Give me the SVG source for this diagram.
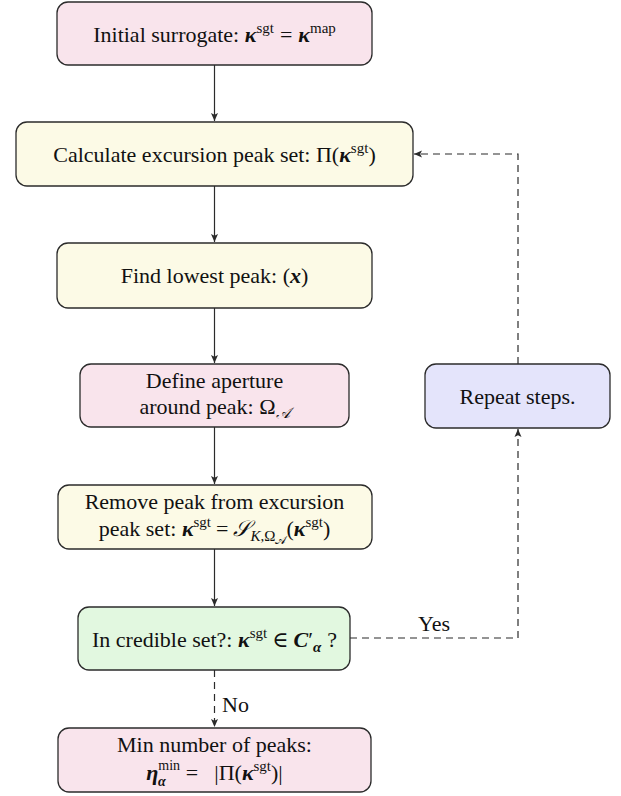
<svg xmlns="http://www.w3.org/2000/svg" width="621" height="796" viewBox="0 0 621 796">
<style>
.box{stroke:#2b2b2b;stroke-width:1.3}
.pink{fill:#f9e4ec}
.yellow{fill:#fcfae6}
.green{fill:#e2f8e0}
.blue{fill:#e4e4fb}
text{font-size:22px;fill:#111}
.c{text-anchor:middle}
.bi{font-weight:bold;font-style:italic}
.it{font-style:italic}
.sup{font-size:15px}
.ss{font-size:12px}
.line{stroke:#2b2b2b;stroke-width:1.2;fill:none}
.dash{stroke-dasharray:7,5}
</style>
<defs>
<marker id="arr" markerUnits="userSpaceOnUse" markerWidth="9" markerHeight="8" refX="8" refY="4" orient="auto">
<path d="M0,0.5 L8,4 L0,7.5 L1.8,4 z" fill="#2b2b2b"/>
</marker>
</defs>

<g id="connectors" font-family="'Liberation Serif', 'DejaVu Serif', serif">
<line class="line" x1="214.5" y1="65" x2="214.5" y2="121" marker-end="url(#arr)"/>
<line class="line" x1="214.5" y1="186" x2="214.5" y2="242" marker-end="url(#arr)"/>
<line class="line" x1="214.5" y1="308" x2="214.5" y2="363" marker-end="url(#arr)"/>
<line class="line" x1="214.5" y1="427" x2="214.5" y2="484" marker-end="url(#arr)"/>
<line class="line" x1="214.5" y1="549" x2="214.5" y2="606" marker-end="url(#arr)"/>
<line class="line dash" x1="214.5" y1="670" x2="214.5" y2="727" marker-end="url(#arr)"/>
<text x="222" y="712">No</text>
<polyline class="line dash" points="350,638 518,638 518,429" marker-end="url(#arr)"/>
<text class="c" x="434" y="631">Yes</text>
<polyline class="line dash" points="518,364 518,154 414,154" marker-end="url(#arr)"/>
</g>

<g id="nodes" font-family="'Liberation Serif', 'DejaVu Serif', serif">
<g id="n1">
<rect class="box pink" x="57" y="2" width="315" height="63" rx="11"/>
<text class="c" x="214.5" y="42">Initial surrogate: <tspan class="bi">κ</tspan><tspan class="sup" dy="-9">sgt</tspan><tspan dy="9" dx="6">=</tspan><tspan class="bi" dx="6">κ</tspan><tspan class="sup" dy="-9">map</tspan></text>
</g>

<g id="n2">
<rect class="box yellow" x="16" y="122" width="397" height="64" rx="11"/>
<text class="c" x="214.5" y="162">Calculate excursion peak set: Π(<tspan class="bi">κ</tspan><tspan class="sup" dy="-9">sgt</tspan><tspan dy="9">)</tspan></text>
</g>

<g id="n3">
<rect class="box yellow" x="57" y="243" width="315" height="65" rx="11"/>
<text class="c" x="214.5" y="283">Find lowest peak: (<tspan class="bi">x</tspan>)</text>
</g>

<g id="n4">
<rect class="box pink" x="80" y="364" width="269" height="63" rx="11"/>
<text class="c" x="214.5" y="388">Define aperture</text>
<text class="c" x="214.5" y="414">around peak: Ω<tspan class="sup it" dy="4">𝒜</tspan></text>
</g>

<g id="n5">
<rect class="box yellow" x="58" y="485" width="314" height="64" rx="11"/>
<text class="c" x="214.5" y="509">Remove peak from excursion</text>
<text class="c" x="214.5" y="536">peak set: <tspan class="bi">κ</tspan><tspan class="sup" dy="-9">sgt</tspan><tspan dy="9" dx="5">=</tspan><tspan class="it" dx="5">𝒮</tspan><tspan class="sup" dy="5"><tspan class="it">K</tspan>,Ω</tspan><tspan class="ss" dy="3">𝒜</tspan><tspan dy="-8">(</tspan><tspan class="bi">κ</tspan><tspan class="sup" dy="-9">sgt</tspan><tspan dy="9">)</tspan></text>
</g>

<g id="n6">
<rect class="box green" x="78" y="607" width="272" height="63" rx="11"/>
<text class="c" x="214.5" y="647">In credible set?: <tspan class="bi">κ</tspan><tspan class="sup" dy="-9">sgt</tspan><tspan dy="9" dx="5">∈</tspan><tspan class="bi" dx="5">C</tspan>′<tspan class="sup bi" dy="5">α</tspan><tspan dy="-5" dx="6">?</tspan></text>
</g>

<g id="n7">
<rect class="box blue" x="425" y="364" width="185" height="64" rx="11"/>
<text class="c" x="517.5" y="404">Repeat steps.</text>
</g>

<g id="n8">
<rect class="box pink" x="58" y="728" width="313" height="64" rx="11"/>
<text class="c" x="214.5" y="752">Min number of peaks:</text>
<text class="c" x="214.5" y="780"><tspan class="bi">η</tspan><tspan font-size="14" dy="-10">min</tspan><tspan font-size="14" class="bi" dx="-22" dy="16">α</tspan><tspan dy="-6" dx="20">=</tspan><tspan dx="16">|Π(</tspan><tspan class="bi">κ</tspan><tspan class="sup" dy="-9">sgt</tspan><tspan dy="9">)|</tspan></text>
</g>
</g>
</svg>
